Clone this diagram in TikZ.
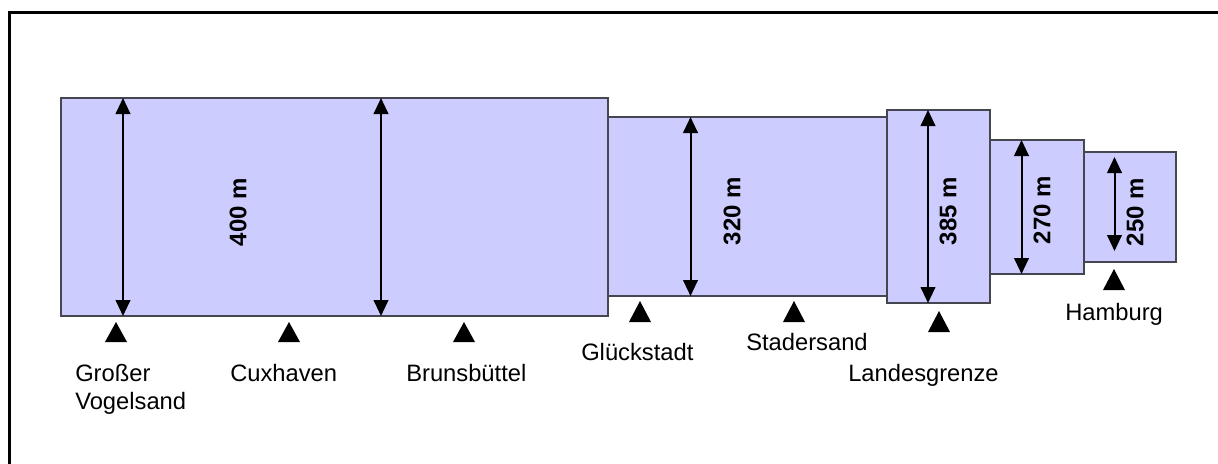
\documentclass[tikz,border=0pt]{standalone}
\usepackage{fontspec}
\setmainfont{Liberation Sans}
\usetikzlibrary{arrows.meta}
\definecolor{boxfill}{RGB}{204,204,255}
\definecolor{boxline}{RGB}{70,70,80}
\tikzset{
  seg/.style={draw=boxline, fill=boxfill, line width=0.9pt},
  dim/.style={line width=1.5pt, {Triangle[width=11pt,length=12pt]}-{Triangle[width=11pt,length=12pt]}},
  meas/.style={font=\fontsize{18}{20}\selectfont\bfseries, rotate=90, inner sep=0pt},
  place/.style={font=\fontsize{17.8}{21}\selectfont, anchor=base west, inner sep=0pt, align=left},
  marker/.style={fill=black},
  frame/.style={line width=2.25pt}
}
\begin{document}
\begin{tikzpicture}[x=0.75pt,y=-0.75pt]
\useasboundingbox (0,0) rectangle (1218,464);
% frame
\coordinate (fbl) at (9.5,470);
\coordinate (ftl) at (9.5,12);
\coordinate (ftr) at (1225,12);
\draw[frame] (fbl) -- (ftl) -- (ftr);
% segments
\draw[seg] (61,98) rectangle (608,316);
\draw[seg] (608,117) rectangle (887,296);
\draw[seg] (887,110) rectangle (990,303);
\draw[seg] (990,140) rectangle (1084,274);
\draw[seg] (1084,152) rectangle (1176,262);
% dimension arrows
\coordinate (a1t) at (123,98);  \coordinate (a1b) at (123,316);
\coordinate (a2t) at (381,98);  \coordinate (a2b) at (381,316);
\coordinate (a3t) at (690.5,117); \coordinate (a3b) at (690.5,296);
\coordinate (a4t) at (928,110); \coordinate (a4b) at (928,303);
\coordinate (a5t) at (1021.5,140); \coordinate (a5b) at (1021.5,274);
\coordinate (a6t) at (1114.5,157); \coordinate (a6b) at (1114.5,251);
\draw[dim] (a1t) -- (a1b);
\draw[dim] (a2t) -- (a2b);
\draw[dim] (a3t) -- (a3b);
\draw[dim] (a4t) -- (a4b);
\draw[dim] (a5t) -- (a5b);
\draw[dim] (a6t) -- (a6b);
% measure labels
\node[meas] (m400) at (238,212) {400 m};
\node[meas] (m320) at (732,211) {320 m};
\node[meas] (m385) at (948,211) {385 m};
\node[meas] (m270) at (1042,210) {270 m};
\node[meas] (m250) at (1135,212) {250 m};
% markers
\fill[marker] (105,342) -- (116,322) -- (127,342) -- cycle;
\fill[marker] (278,342) -- (289,322) -- (300,342) -- cycle;
\fill[marker] (453,342) -- (464,322) -- (475,342) -- cycle;
\fill[marker] (629,322) -- (640,301) -- (651,322) -- cycle;
\fill[marker] (783,322) -- (794,301) -- (805,322) -- cycle;
\fill[marker] (928,332) -- (939,311) -- (950,332) -- cycle;
\fill[marker] (1103,290) -- (1114,269) -- (1125,290) -- cycle;
% place names
\node[place] (p1) at (75,381) {Großer};
\node[place] (p1b) at (75,409) {Vogelsand};
\node[place] (p2) at (230,381) {Cuxhaven};
\node[place] (p3) at (406,381) {Brunsbüttel};
\node[place] (p4) at (581,360) {Glückstadt};
\node[place] (p5) at (746,350) {Stadersand};
\node[place] (p6) at (848,381) {Landesgrenze};
\node[place] (p7) at (1065,320) {Hamburg};
\end{tikzpicture}
\end{document}
